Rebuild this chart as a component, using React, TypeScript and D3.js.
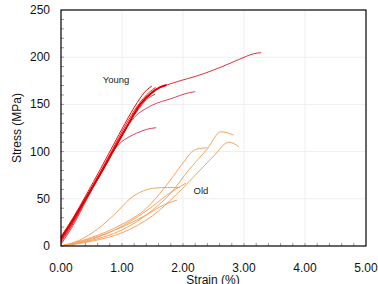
import React, { useEffect, useRef } from "react";
import * as d3 from "d3";

type Pt = [number, number];

// Young curves (strain %, stress MPa)
const young1: Pt[] = [[0, 8], [0.2, 28], [0.42, 52], [0.65, 77], [0.85, 100], [1.05, 123], [1.3, 150], [1.5, 163], [1.62, 168], [1.73, 170.5], [1.95, 175], [2.22, 180], [2.5, 186.4], [2.77, 193.5], [3.04, 201], [3.15, 203.5], [3.28, 204.8]];
const young2: Pt[] = [[0, 4], [0.2, 24], [0.42, 50], [0.65, 76], [0.85, 100], [1.02, 120], [1.2, 136], [1.49, 149], [1.8, 156], [2.11, 162.5], [2.2, 163.5]];
const young3: Pt[] = [[0, 6], [0.2, 26], [0.42, 51], [0.65, 78], [0.85, 100], [0.97, 109], [1.1, 115], [1.24, 119.5], [1.4, 123.5], [1.56, 125.3]];
const young4: Pt[] = [[0, 2], [0.2, 22], [0.42, 49], [0.65, 77], [0.85, 101], [1.05, 124], [1.25, 143], [1.4, 155], [1.54, 160.7]];
const young5: Pt[] = [[0, 10], [0.2, 30], [0.42, 55], [0.65, 82], [0.85, 106], [1.05, 130], [1.25, 152], [1.4, 165], [1.49, 169.5]];
const young6: Pt[] = [[0, 5], [0.2, 25], [0.42, 52], [0.65, 79], [0.85, 103], [1.05, 127], [1.25, 148], [1.45, 163], [1.55, 168]];

// Old curves
const oldA: Pt[] = [[0, 0], [0.3, 6], [0.6, 18], [0.9, 35], [1.13, 50], [1.3, 57], [1.5, 61], [1.75, 62], [1.95, 62]];
const oldB: Pt[] = [[0, 0], [0.5, 8], [1.0, 20], [1.4, 33], [1.7, 44], [1.9, 48.5]];
const oldC: Pt[] = [[0, 0], [0.5, 9], [1.0, 23], [1.4, 40], [1.7, 62], [2.0, 88], [2.15, 100], [2.25, 103], [2.4, 104]];
const oldD: Pt[] = [[0, 0], [0.5, 6], [1.0, 17], [1.5, 38], [1.8, 56], [2.1, 81], [2.4, 103], [2.62, 121], [2.83, 117.5]];
const oldE: Pt[] = [[0, 0], [0.5, 5], [1.0, 14], [1.5, 32], [1.9, 55], [2.2, 75], [2.5, 95], [2.75, 110], [2.92, 105]];
const oldF: Pt[] = [[0, 0], [0.5, 7], [1.0, 21], [1.5, 42], [1.8, 57], [2.05, 66.5]];

const youngCurves = [young1, young2, young3, young4, young5, young6];
const youngColors = ["#e0303c", "#e04060", "#d8405c", "#e8383c", "#e81010", "#e82020"];
const oldCurves = [oldA, oldB, oldC, oldD, oldE, oldF];

const xTicks = [0, 1, 2, 3, 4, 5];
const yTicks = [0, 50, 100, 150, 200, 250];

const App = () => {
    const svgRef = useRef<SVGSVGElement>(null);

    useEffect(() => {
        const svg = d3.select(svgRef.current);
        svg.selectAll("*").remove();

        const left = 61, right = 366, top = 10, bottom = 246;
        const x = d3.scaleLinear().domain([0, 5]).range([left, right]);
        const y = d3.scaleLinear().domain([0, 250]).range([bottom, top]);
        const font = "Arial, 'Liberation Sans', sans-serif";

        // grid
        const grid = svg.append("g");
        xTicks.slice(1, -1).forEach((t) => {
            grid.append("line").attr("x1", x(t)).attr("x2", x(t)).attr("y1", top).attr("y2", bottom)
                .attr("stroke", "#eeeeee").attr("stroke-width", 1);
        });
        yTicks.slice(1, -1).forEach((t) => {
            grid.append("line").attr("x1", left).attr("x2", right).attr("y1", y(t)).attr("y2", y(t))
                .attr("stroke", "#eeeeee").attr("stroke-width", 1);
        });

        // minor ticks inside
        d3.range(0.2, 5, 0.2).forEach((t) => {
            svg.append("line").attr("x1", x(t)).attr("x2", x(t)).attr("y1", bottom).attr("y2", bottom - 3)
                .attr("stroke", "#999").attr("stroke-width", 1);
        });
        d3.range(10, 250, 10).forEach((t) => {
            svg.append("line").attr("x1", left).attr("x2", left + 3).attr("y1", y(t)).attr("y2", y(t))
                .attr("stroke", "#999").attr("stroke-width", 1);
        });

        const line = d3.line<Pt>().x((d) => x(d[0])).y((d) => y(d[1])).curve(d3.curveMonotoneX);

        oldCurves.forEach((c) => {
            svg.append("path").attr("d", line(c)).attr("fill", "none")
                .attr("stroke", "#f5a460").attr("stroke-width", 1);
        });
        youngCurves.forEach((c, i) => {
            svg.append("path").attr("d", line(c)).attr("fill", "none")
                .attr("stroke", youngColors[i]).attr("stroke-width", 1);
        });
        // thick main segment
        svg.append("path").attr("d", line(young1.filter((d) => d[0] <= 1.75))).attr("fill", "none")
            .attr("stroke", "#e00000").attr("stroke-width", 2);

        // frame
        svg.append("rect").attr("x", left).attr("y", top).attr("width", right - left).attr("height", bottom - top)
            .attr("fill", "none").attr("stroke", "#000").attr("stroke-width", 1.2);

        // tick labels
        xTicks.forEach((t) => {
            svg.append("text").attr("x", x(t)).attr("y", 272).attr("text-anchor", "middle")
                .style("font-family", font).style("font-size", "12px").attr("fill", "#111")
                .text(t.toFixed(2));
        });
        yTicks.forEach((t) => {
            svg.append("text").attr("x", 50).attr("y", y(t) + 4).attr("text-anchor", "end")
                .style("font-family", font).style("font-size", "12px").attr("fill", "#111")
                .text(t);
        });

        // axis titles
        svg.append("text").attr("x", 213).attr("y", 284).attr("text-anchor", "middle")
            .style("font-family", font).style("font-size", "12px").attr("fill", "#111").text("Strain (%)");
        svg.append("text").attr("transform", `translate(21, ${128}) rotate(-90)`).attr("text-anchor", "middle")
            .style("font-family", font).style("font-size", "12px").attr("fill", "#111").text("Stress (MPa)");

        // annotations
        svg.append("text").attr("x", 116).attr("y", 83).attr("text-anchor", "middle")
            .style("font-family", font).style("font-size", "9.5px").attr("fill", "#222").text("Young");
        svg.append("text").attr("x", 201).attr("y", 194).attr("text-anchor", "middle")
            .style("font-family", font).style("font-size", "9.5px").attr("fill", "#222").text("Old");
    }, []);

    return (
        <svg ref={svgRef} width={378} height={284}
            style={{ position: "absolute", left: 0, top: 0, background: "#fff" }} />
    );
};

export default App;
